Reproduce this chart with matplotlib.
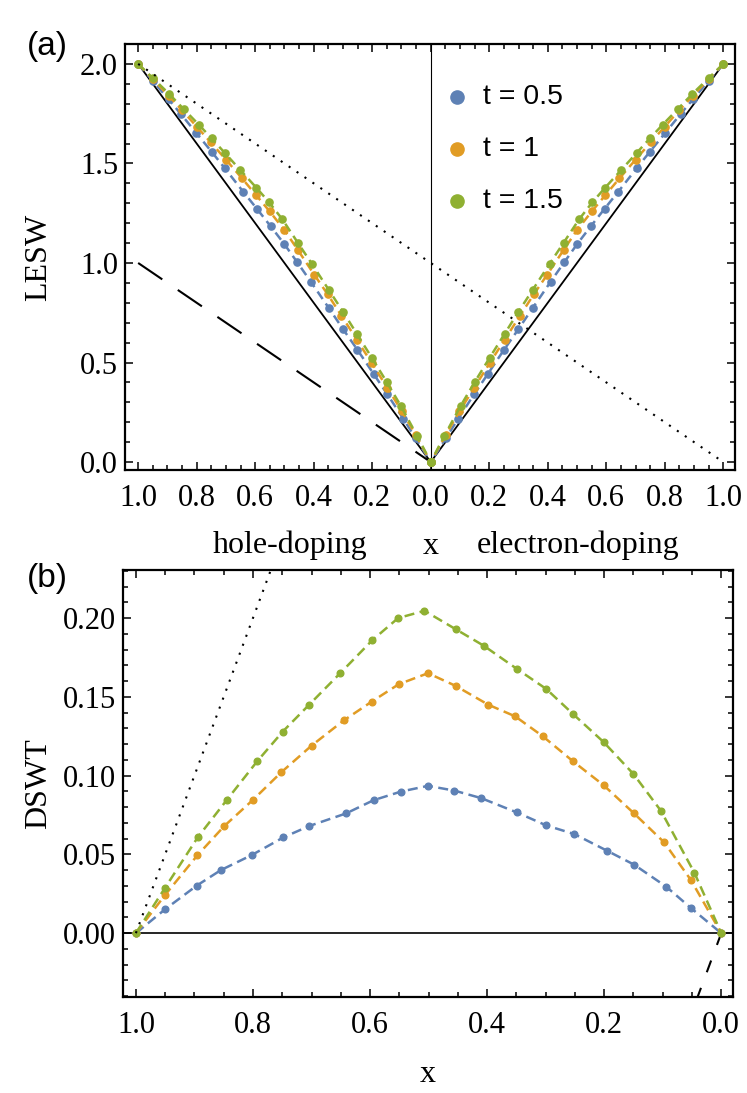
import numpy as np
import matplotlib
matplotlib.use("Agg")
import matplotlib.pyplot as plt
from matplotlib.ticker import FixedLocator, MultipleLocator, FixedFormatter

# ---------------- data ----------------
series_labels = ["t = 0.5", "t = 1", "t = 1.5"]
colors = ["#5E81B5", "#E19C24", "#8FB032"]

# Panel (b): DSWT vs x
blue_x = [1.0, 0.95, 0.896, 0.855, 0.802, 0.748, 0.704, 0.641, 0.594, 0.547, 0.501,
          0.456, 0.410, 0.349, 0.299, 0.251, 0.195, 0.149, 0.094, 0.052, 0.0]
blue_dswt = [0.0, 0.0152, 0.0302, 0.040, 0.0496, 0.0608, 0.068, 0.076, 0.0844, 0.0899, 0.0935,
             0.0905, 0.0857, 0.0766, 0.0684, 0.0629, 0.0523, 0.0435, 0.0295, 0.016, 0.0]
orange_x = [1.0, 0.95, 0.895, 0.849, 0.80, 0.752, 0.70, 0.645, 0.597, 0.551, 0.501,
            0.454, 0.398, 0.352, 0.305, 0.253, 0.201, 0.149, 0.098, 0.052, 0.0]
orange_dswt = [0.0, 0.0243, 0.0494, 0.068, 0.0846, 0.102, 0.119, 0.135, 0.147, 0.158, 0.165,
               0.157, 0.145, 0.1376, 0.125, 0.109, 0.0939, 0.076, 0.0578, 0.0338, 0.0]
green_x = [1.0, 0.95, 0.894, 0.845, 0.793, 0.749, 0.704, 0.651, 0.596, 0.552, 0.507,
           0.454, 0.406, 0.349, 0.299, 0.253, 0.201, 0.150, 0.103, 0.046, 0.0]
green_dswt = [0.0, 0.0289, 0.061, 0.0844, 0.109, 0.128, 0.145, 0.165, 0.186, 0.200, 0.2046,
              0.193, 0.1825, 0.1677, 0.155, 0.139, 0.1213, 0.101, 0.0776, 0.0384, 0.0]

# Panel (a): LESW vs x (same values on hole- and electron-doping side)
blue_lesw = [2.0, 1.915, 1.822, 1.750, 1.654, 1.557, 1.476, 1.358, 1.272, 1.184, 1.096,
             1.003, 0.906, 0.775, 0.666, 0.565, 0.442, 0.342, 0.218, 0.120, 0.0]
orange_lesw = [2.0, 1.924, 1.839, 1.766, 1.685, 1.606, 1.519, 1.425, 1.341, 1.260, 1.167,
               1.065, 0.941, 0.842, 0.735, 0.615, 0.496, 0.374, 0.254, 0.138, 0.0]
green_lesw = [2.0, 1.929, 1.849, 1.774, 1.695, 1.626, 1.553, 1.467, 1.378, 1.304, 1.219,
              1.101, 0.995, 0.866, 0.753, 0.645, 0.523, 0.401, 0.284, 0.130, 0.0]

# Reference lines
solid_a_x = [-1.0, 0.0, 1.0]
solid_a_y = [2.0, 0.0, 2.0]
dotted_a_x = [-1.0, 1.0]
dotted_a_y = [2.0, 0.0]
dashed_a_x = [-1.0, 0.0]
dashed_a_y = [1.0, 0.0]
dotted_b_x = [1.0, 0.7]
dotted_b_y = [0.0, 0.3]
dashed_b_x = [0.0, 0.06]
dashed_b_y = [0.0, -0.06]

xticks_a = [-1.0, -0.8, -0.6, -0.4, -0.2, 0.0, 0.2, 0.4, 0.6, 0.8, 1.0]
xticklabels_a = ["1.0", "0.8", "0.6", "0.4", "0.2", "0.0", "0.2", "0.4", "0.6", "0.8", "1.0"]
yticks_a = [0.0, 0.5, 1.0, 1.5, 2.0]
xticks_b = [1.0, 0.8, 0.6, 0.4, 0.2, 0.0]
yticks_b = [0.0, 0.05, 0.10, 0.15, 0.20]

# ---------------- style ----------------
SERIF = ["Liberation Serif", "DejaVu Serif"]
SANS = ["Liberation Sans", "DejaVu Sans"]
FS = 22
LFS = 23

W, H = 747, 1093
fig = plt.figure(figsize=(W / 100, H / 100), dpi=100)

def ax_rect(left, top, right, bottom):
    return [left / W, 1 - bottom / H, (right - left) / W, (bottom - top) / H]

axa = fig.add_axes(ax_rect(125, 44, 735, 470))
axb = fig.add_axes(ax_rect(123, 570, 733, 997))

def style_axes(ax):
    for sp in ax.spines.values():
        sp.set_linewidth(1.6)
    ax.tick_params(which="both", direction="in", top=True, right=True,
                   labelsize=FS, width=1.1)
    ax.tick_params(axis="y", which="both", pad=5)
    ax.tick_params(axis="x", which="both", pad=10)
    ax.tick_params(which="major", length=6)
    ax.tick_params(which="minor", length=3.5)
    for lab in ax.get_xticklabels() + ax.get_yticklabels():
        lab.set_fontfamily(SERIF)

series_x = [blue_x, orange_x, green_x]
series_lesw = [blue_lesw, orange_lesw, green_lesw]
series_dswt = [blue_dswt, orange_dswt, green_dswt]

# ---------------- panel (a) ----------------
axa.axvline(0, color="black", lw=0.8, zorder=1)
axa.plot(solid_a_x, solid_a_y, color="black", lw=1.3, zorder=2)
axa.plot(dashed_a_x, dashed_a_y, color="black", lw=1.5, ls=(0, (14, 9)), zorder=2)
axa.plot(dotted_a_x, dotted_a_y, color="black", lw=1.5, ls=(0, (1, 3.6)), zorder=4)
for xs, ys, c in zip(series_x, series_lesw, colors):
    xs = np.array(xs)
    for sign in (-1, 1):
        axa.plot(sign * xs, ys, color=c, lw=1.8, ls=(0, (3.6, 2.2)),
                 marker="o", ms=5.2, mec=c, mfc=c, zorder=3)
axa.set_xlim(-1.045, 1.04)
axa.set_ylim(-0.04, 2.1)
axa.xaxis.set_major_locator(FixedLocator(xticks_a))
axa.xaxis.set_major_formatter(FixedFormatter(xticklabels_a))
axa.xaxis.set_minor_locator(MultipleLocator(0.05))
axa.yaxis.set_major_locator(FixedLocator(yticks_a))
axa.yaxis.set_minor_locator(MultipleLocator(0.1))
axa.yaxis.set_major_formatter(plt.FuncFormatter(lambda v, p: f"{v:.1f}"))
style_axes(axa)
axa.set_ylabel("LESW", fontsize=LFS, family=SERIF)
axa.yaxis.set_label_coords((53 - 125) / 610, 0.5)

# legend (manual, Mathematica style)
leg_y = [0.876, 0.754, 0.632]
for yy, c, lab in zip(leg_y, colors, series_labels):
    axa.plot([0.544], [yy], marker="o", ms=9.5, color=c, transform=axa.transAxes,
             clip_on=False, zorder=5)
    axa.text(0.587, yy, lab, transform=axa.transAxes, fontsize=20.5, family=SANS,
             va="center", ha="left")

# under-axis captions
fig.text(290 / W, 1 - 545 / H, "hole-doping", fontsize=LFS, family=SERIF, ha="center", va="center")
fig.text(431 / W, 1 - 547 / H, "x", fontsize=LFS, family=SERIF, ha="center", va="center")
fig.text(578 / W, 1 - 545 / H, "electron-doping", fontsize=LFS, family=SERIF, ha="center", va="center")

# ---------------- panel (b) ----------------
axb.axhline(0, color="black", lw=1.2, zorder=1)
axb.plot(dotted_b_x, dotted_b_y, color="black", lw=1.5, ls=(0, (1, 3.6)), zorder=4)
axb.plot(dashed_b_x, dashed_b_y, color="black", lw=1.5, ls=(0, (6, 8)), zorder=2)
for xs, ys, c in zip(series_x, series_dswt, colors):
    axb.plot(xs, ys, color=c, lw=1.8, ls=(0, (4, 2.2)),
             marker="o", ms=4.8, mec=c, mfc=c, zorder=3)
axb.set_xlim(1.022, -0.02)
axb.set_ylim(-0.0405, 0.2305)
axb.xaxis.set_major_locator(FixedLocator(xticks_b))
axb.xaxis.set_minor_locator(MultipleLocator(0.05))
axb.xaxis.set_major_formatter(plt.FuncFormatter(lambda v, p: f"{v:.1f}"))
axb.yaxis.set_major_locator(FixedLocator(yticks_b))
axb.yaxis.set_minor_locator(MultipleLocator(0.01))
axb.yaxis.set_major_formatter(plt.FuncFormatter(lambda v, p: f"{v:.2f}"))
style_axes(axb)
axb.set_ylabel("DSWT", fontsize=LFS, family=SERIF)
axb.yaxis.set_label_coords((53 - 123) / 610, 0.5)
fig.text(428 / W, 1 - 1075 / H, "x", fontsize=LFS, family=SERIF, ha="center", va="center")

# panel labels
fig.text(47 / W, 1 - 47 / H, "(a)", fontsize=24, family=SANS, ha="center", va="center")
fig.text(47 / W, 1 - 578 / H, "(b)", fontsize=24, family=SANS, ha="center", va="center")

fig.savefig("out.png", dpi=100)
